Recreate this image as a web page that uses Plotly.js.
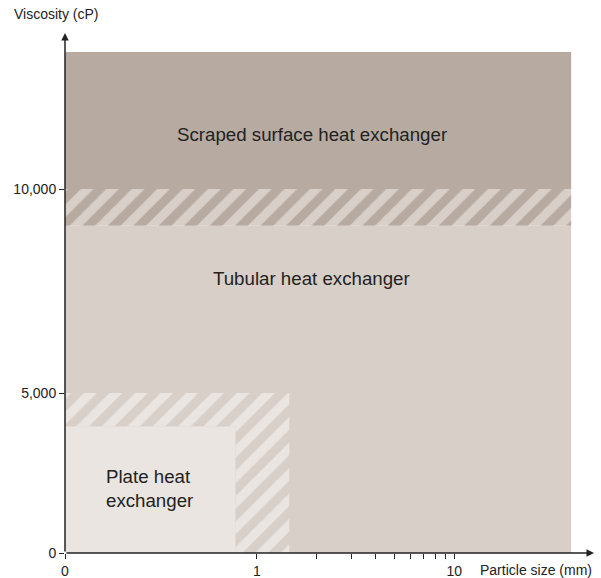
<!DOCTYPE html>
<html>
<head>
<meta charset="utf-8">
<script src="https://cdn.plot.ly/plotly-3.0.1.min.js"></script>
<style>
  html, body { margin: 0; padding: 0; background: #ffffff; }
  #chart { width: 601px; height: 578px; }
</style>
</head>
<body>
<div id="chart"></div>
<script>
// ---- Data ----
// Particle size axis (mm), log scale; the "0" label sits at the axis origin
const X_ORIGIN = 0.107;
const X_AXIS_END = 50.9;
const xTickValues = [X_ORIGIN, 1, 2, 3, 4, 5, 6, 7, 8, 9, 10];
const xTickLabels = ['0', '1', '', '', '', '', '', '', '', '', '10'];

// Viscosity axis (cP), drawn as two stacked linear segments
const yLowTickValues = [0, 5000];
const yLowTickLabels = ['0', '5,000'];
const yHighTickValues = [10000];
const yHighTickLabels = ['10,000'];
const Y_SPLIT = 5000;
const Y_AXIS_END = 13824;

// Regions
const regionNames = ['Plate heat exchanger', 'Tubular heat exchanger', 'Scraped surface heat exchanger'];
const plateSolidMaxSize = 0.78;     // mm
const plateTransitionMaxSize = 1.46; // mm
const plateSolidMaxVisc = 3950;     // cP
const plateTransitionMaxVisc = 5000; // cP
const tubularMaxSize = 39;          // mm
const tubularSolidMaxVisc = 9100;   // cP
const scrapedMinVisc = 10000;       // cP
const scrapedMaxVisc = 13358;       // cP

// Colours
const colScraped = 'rgb(183,170,161)';
const colTubular = 'rgb(216,207,201)';
const colPlate = 'rgb(234,229,225)';
const colInk = '#222222';

// ---- Traces ----
function poly(xs, ys, yaxis, color, pattern) {
  const t = {
    type: 'scatter', mode: 'lines', x: xs.concat([xs[0]]), y: ys.concat([ys[0]]),
    yaxis: yaxis, fill: 'toself', fillcolor: color,
    line: { width: 0, color: color }, hoverinfo: 'skip', showlegend: false
  };
  if (pattern) t.fillpattern = pattern;
  return t;
}

const traces = [
  // tubular, lower segment
  poly([X_ORIGIN, tubularMaxSize, tubularMaxSize, X_ORIGIN], [0, 0, Y_SPLIT, Y_SPLIT], 'y', colTubular),
  // tubular, upper segment
  poly([X_ORIGIN, tubularMaxSize, tubularMaxSize, X_ORIGIN], [Y_SPLIT, Y_SPLIT, tubularSolidMaxVisc, tubularSolidMaxVisc], 'y2', colTubular),
  // tubular / scraped transition band (hatched)
  poly([X_ORIGIN, tubularMaxSize, tubularMaxSize, X_ORIGIN], [tubularSolidMaxVisc, tubularSolidMaxVisc, scrapedMinVisc, scrapedMinVisc], 'y2', colScraped,
       { shape: '/', size: 18, solidity: 0.5, fgcolor: colTubular, bgcolor: colScraped, fillmode: 'replace' }),
  // scraped solid
  poly([X_ORIGIN, tubularMaxSize, tubularMaxSize, X_ORIGIN], [scrapedMinVisc, scrapedMinVisc, scrapedMaxVisc, scrapedMaxVisc], 'y2', colScraped),
  // plate / tubular transition (hatched L)
  poly([X_ORIGIN, X_ORIGIN, plateTransitionMaxSize, plateTransitionMaxSize, plateSolidMaxSize, plateSolidMaxSize],
       [plateSolidMaxVisc, plateTransitionMaxVisc, plateTransitionMaxVisc, 0, 0, plateSolidMaxVisc], 'y', colTubular,
       { shape: '/', size: 18, solidity: 0.5, fgcolor: colPlate, bgcolor: colTubular, fillmode: 'replace' }),
  // plate solid
  poly([X_ORIGIN, plateSolidMaxSize, plateSolidMaxSize, X_ORIGIN], [0, 0, plateSolidMaxVisc, plateSolidMaxVisc], 'y', colPlate)
];

const fontFam = '"Liberation Sans", Arial, Helvetica, sans-serif';
const lowFrac = 160 / 520;
const labelSize = 18.7;

const layout = {
  width: 601, height: 578,
  margin: { l: 65, r: 7, t: 33, b: 25, pad: 0 },
  paper_bgcolor: '#ffffff', plot_bgcolor: 'rgba(0,0,0,0)',
  font: { family: fontFam, size: 14, color: colInk },
  showlegend: false,
  xaxis: {
    type: 'log', range: [Math.log10(X_ORIGIN), Math.log10(X_AXIS_END)],
    tickmode: 'array', tickvals: xTickValues, ticktext: xTickLabels,
    ticks: 'outside', ticklen: 5, tickwidth: 1, tickcolor: colInk,
    showgrid: false, zeroline: false, showline: false,
    tickfont: { size: 14, color: colInk }, fixedrange: true
  },
  yaxis: {
    domain: [0, lowFrac], range: [0, Y_SPLIT], anchor: 'x',
    tickmode: 'array', tickvals: yLowTickValues, ticktext: yLowTickLabels,
    ticks: 'outside', ticklen: 5, tickwidth: 1, tickcolor: colInk,
    showgrid: false, zeroline: false, showline: false,
    tickfont: { size: 14, color: colInk }, fixedrange: true
  },
  yaxis2: {
    domain: [lowFrac, 1], range: [Y_SPLIT, Y_AXIS_END], anchor: 'x',
    tickmode: 'array', tickvals: yHighTickValues, ticktext: yHighTickLabels,
    ticks: 'outside', ticklen: 5, tickwidth: 1, tickcolor: colInk,
    showgrid: false, zeroline: false, showline: false,
    tickfont: { size: 14, color: colInk }, fixedrange: true
  },
  annotations: [
    // axis arrows
    { xref: 'paper', yref: 'paper', x: 1, y: 0, ax: -529, ay: 0, axref: 'pixel', ayref: 'pixel',
      showarrow: true, arrowhead: 2, arrowsize: 1, arrowwidth: 1.5, arrowcolor: colInk, text: '', standoff: 0 },
    { xref: 'paper', yref: 'paper', x: 0, y: 1, ax: 0, ay: 520, axref: 'pixel', ayref: 'pixel',
      showarrow: true, arrowhead: 2, arrowsize: 1, arrowwidth: 1.5, arrowcolor: colInk, text: '', standoff: 0 },
    // axis titles
    { xref: 'paper', yref: 'paper', x: 0, y: 1, xanchor: 'center', yanchor: 'middle', xshift: -9, yshift: 19,
      showarrow: false, text: 'Viscosity (cP)', font: { size: 14, color: colInk } },
    { xref: 'paper', yref: 'paper', x: 1, y: 0, xanchor: 'right', yanchor: 'middle', xshift: 0, yshift: -17,
      showarrow: false, text: 'Particle size (mm)', font: { size: 14, color: colInk } },
    // region labels
    { xref: 'x', yref: 'y2', x: Math.log10(1.9), y: 11331, xanchor: 'center', yanchor: 'middle',
      showarrow: false, text: regionNames[2], font: { size: labelSize, color: colInk } },
    { xref: 'x', yref: 'y2', x: Math.log10(1.9), y: 7806, xanchor: 'center', yanchor: 'middle',
      showarrow: false, text: regionNames[1], font: { size: labelSize, color: colInk } },
    { xref: 'x', yref: 'y', x: Math.log10(0.168), y: 2030, xanchor: 'left', yanchor: 'middle', align: 'left',
      showarrow: false, text: 'Plate heat<br>exchanger', font: { size: labelSize, color: colInk } }
  ]
};

Plotly.newPlot('chart', traces, layout, { displayModeBar: false, staticPlot: true });
</script>
</body>
</html>
